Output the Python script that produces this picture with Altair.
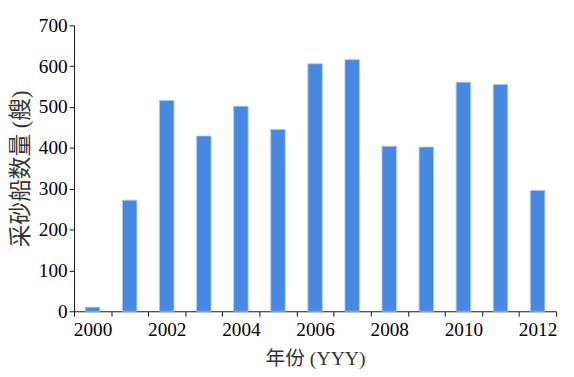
import altair as alt
import pandas as pd

years = [2000, 2001, 2002, 2003, 2004, 2005, 2006, 2007, 2008, 2009, 2010, 2011, 2012]
counts = [10, 272, 516, 429, 502, 445, 606, 616, 404, 402, 561, 555, 296]

df = pd.DataFrame({"year": years, "count": counts})

FONT = "Liberation Serif, Times New Roman, Noto Sans CJK SC"

chart = alt.Chart(df).mark_bar(
    color="#4788e3", stroke="#a8c6f2", strokeWidth=0.8,
    width=alt.RelativeBandSize(0.39)
).encode(
    x=alt.X("year:O", title="年份 (YYY)",
            scale=alt.Scale(paddingInner=0, paddingOuter=0),
            axis=alt.Axis(labelAngle=0, tickBand="extent",
                          labelExpr="datum.value % 2 == 0 ? datum.label : ''",
                          labelPadding=5, titlePadding=9, titleFontSize=20)),
    y=alt.Y("count:Q", title="采砂船数量 (艘)",
            scale=alt.Scale(domain=[0, 700], nice=False),
            axis=alt.Axis(values=[0, 100, 200, 300, 400, 500, 600, 700],
                          grid=False, labelPadding=2, titlePadding=6,
                          titleFontSize=23)),
).properties(
    width=489, height=290,
    autosize="none",
    padding={"left": 67, "top": 15, "right": 10, "bottom": 62},
).configure_view(stroke=None).configure_axis(
    labelFont=FONT, titleFont=FONT,
    labelFontSize=19.5,
    labelColor="#000", titleColor="#333",
    titleFontWeight="normal",
    domainColor="#111", tickColor="#111", tickSize=5,
    domainWidth=1, tickWidth=1,
)

chart.save("out.html", embed_options={"renderer": "svg", "actions": False})
